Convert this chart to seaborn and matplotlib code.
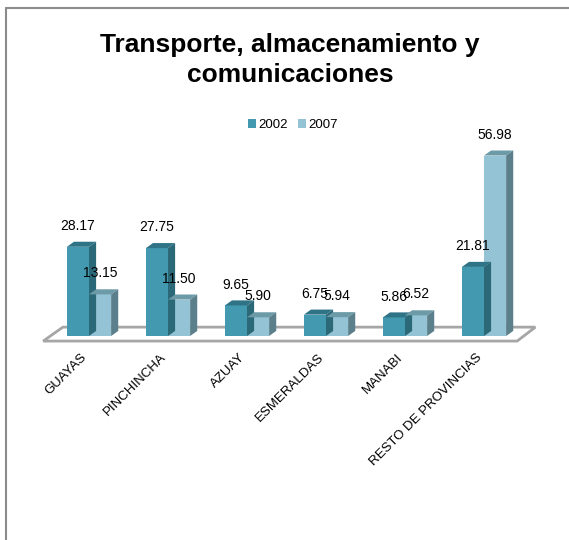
import pandas as pd
import seaborn as sns
import matplotlib.pyplot as plt
import matplotlib.transforms as mtransforms
from matplotlib.patches import Polygon
from matplotlib.lines import Line2D

provincias = ['GUAYAS', 'PINCHINCHA', 'AZUAY', 'ESMERALDAS', 'MANABI', 'RESTO DE PROVINCIAS']
valores_2002 = [28.17, 27.75, 9.65, 6.75, 5.86, 21.81]
valores_2007 = [13.15, 11.50, 5.90, 5.94, 6.52, 56.98]
anios = ['2002', '2007']

df = pd.DataFrame({
    'Provincia': provincias * 2,
    'Valor': valores_2002 + valores_2007,
    'Anio': [anios[0]] * len(provincias) + [anios[1]] * len(provincias),
})

sns.set_style('white')
plt.rcParams['font.family'] = ['Liberation Sans', 'DejaVu Sans']
plt.rcParams['text.color'] = 'black'
plt.rcParams['xtick.color'] = 'black'

# colores: cara frontal, cara superior, cara lateral
frente = {'2002': '#4399B0', '2007': '#93C3D4'}
arriba = {'2002': '#2F7486', '2007': '#6C9AA6'}
lado = {'2002': '#2B6878', '2007': '#5B808B'}

fig = plt.figure(figsize=(5.69, 5.4), dpi=100)
ax = fig.add_axes([49.5 / 569, (540 - 336) / 540, 474 / 569, 190 / 540])

sns.barplot(data=df, x='Provincia', y='Valor', hue='Anio', hue_order=anios,
            palette=frente, saturation=1, width=0.56, ax=ax, zorder=3, linewidth=0)

ax.set_xlim(-0.5, 5.5)
ax.set_ylim(0, 60)

# piso del grafico
piso = Polygon([(-0.58, -1.6), (5.42, -1.6), (5.65, 2.8), (-0.33, 2.8)],
               closed=True, facecolor='white', edgecolor='#A6A6A6', lw=2,
               clip_on=False, zorder=1)
ax.add_patch(piso)

# profundidad 3D en cada barra
dx, dy = 0.09, 1.6
for anio, cont in zip(anios, ax.containers):
    for bar in cont:
        x0 = bar.get_x()
        x1 = x0 + bar.get_width()
        h = bar.get_height()
        top = Polygon([(x0, h), (x1, h), (x1 + dx, h + dy), (x0 + dx, h + dy)],
                      closed=True, facecolor=arriba[anio], lw=0, clip_on=False, zorder=3)
        side = Polygon([(x1, 0), (x1, h), (x1 + dx, h + dy), (x1 + dx, dy)],
                       closed=True, facecolor=lado[anio], lw=0, clip_on=False, zorder=3)
        ax.add_patch(top)
        ax.add_patch(side)
        ax.annotate(f'{h:.2f}', (x0 + bar.get_width() / 2, h), xytext=(0, 10),
                    textcoords='offset points', ha='center', va='bottom',
                    fontsize=10, zorder=5, annotation_clip=False)

sns.despine(ax=ax, left=True, bottom=True)
ax.set_xlabel('')
ax.set_ylabel('')
ax.set_yticks([])
ax.tick_params(axis='x', length=0, pad=14)
shift = mtransforms.ScaledTranslation(-4 / 100, 0, fig.dpi_scale_trans)
for lbl in ax.get_xticklabels():
    lbl.set_rotation(45)
    lbl.set_ha('right')
    lbl.set_va('center')
    lbl.set_rotation_mode('anchor')
    lbl.set_fontsize(9.5)
    lbl.set_transform(lbl.get_transform() + shift)

sns.move_legend(ax, 'center', bbox_to_anchor=(293 / 569, 1 - 125 / 540),
                bbox_transform=fig.transFigure, ncol=2, frameon=False, title=None,
                fontsize=9.5, handlelength=0.6, handleheight=0.6,
                handletextpad=0.15, columnspacing=0.8)

fig.text(290 / 569, 1 - 60 / 540, 'Transporte, almacenamiento y\ncomunicaciones',
         ha='center', va='center', fontsize=19, fontweight='bold', linespacing=1.3)

# marco exterior
fig.add_artist(Line2D([6 / 569, 1], [1 - 8 / 540, 1 - 8 / 540], color='#8C8C8C', lw=1.5))
fig.add_artist(Line2D([6 / 569, 6 / 569], [0, 1 - 8 / 540], color='#8C8C8C', lw=1.5))

fig.savefig('out.png', dpi=100)
